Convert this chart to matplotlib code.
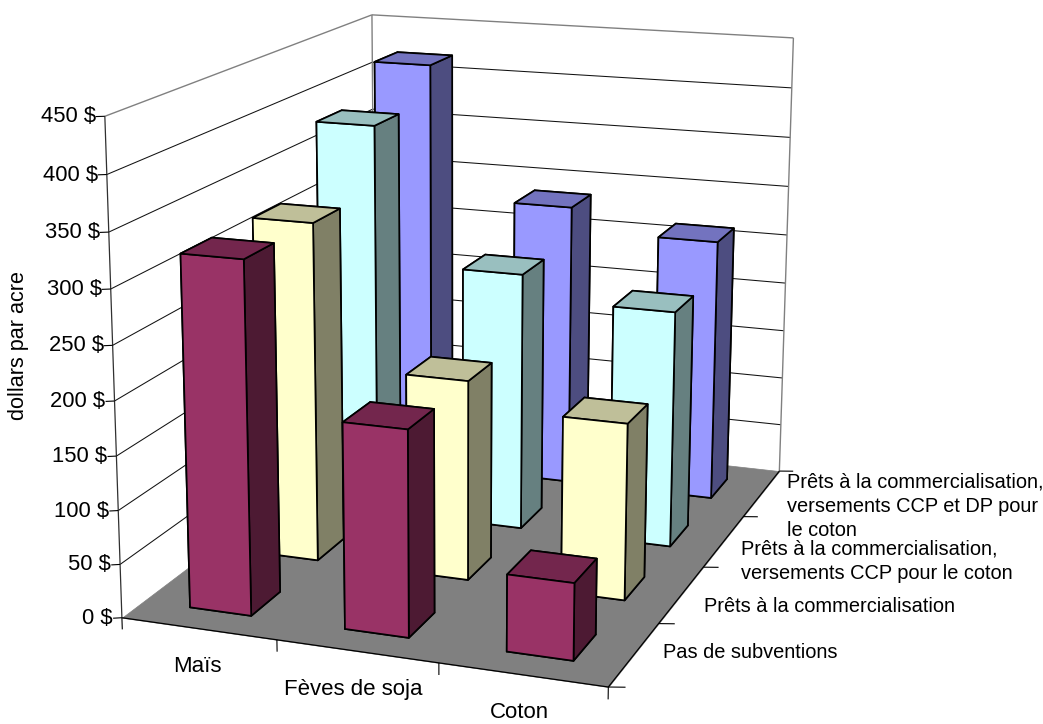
import numpy as np
import matplotlib
matplotlib.use("Agg")
import matplotlib.pyplot as plt
from mpl_toolkits.mplot3d.art3d import Poly3DCollection, Line3DCollection

plt.rcParams['font.family'] = ['Liberation Sans', 'DejaVu Sans']

# --- data ---
categories = ["Maïs", "Fèves de soja", "Coton"]
series_names = [
    "Pas de subventions",
    "Prêts à la commercialisation",
    "Prêts à la commercialisation,\nversements CCP pour le coton",
    "Prêts à la commercialisation,\nversements CCP et DP pour\nle coton",
]
pas_de_subventions = [325, 189, 70]
prets = [324, 190, 166]
prets_ccp = [386, 253, 230]
prets_ccp_dp = [420, 286, 263]
values = [pas_de_subventions, prets, prets_ccp, prets_ccp_dp]
z_ticks = list(range(0, 500, 50))
ylabel = "dollars par acre"

# front, top, side colours per series
colors = [
    ("#993366", "#73264D", "#4D1A33"),
    ("#FFFFCC", "#BFBF99", "#808066"),
    ("#CCFFFF", "#99BFBF", "#668080"),
    ("#9999FF", "#7373BF", "#4D4D80"),
]

W, H = 1043, 724
nx, ny = len(categories), len(values)
zmax = z_ticks[-1]

# box corners (x, y, z) and where they sit on the canvas, in pixels
box_world = [(0, 0, 0), (nx, 0, 0), (nx, ny, 0), (0, ny, 0),
             (0, 0, zmax), (0, ny, zmax), (nx, ny, zmax)]
box_pixel = [(123, 618), (608, 687), (780, 471), (374, 426),
             (104, 116), (373, 15), (793, 38)]


def fit_projection(world, pixel):
    # camera matrix from point pairs, z scaled to keep the system balanced
    rows = []
    for (x, y, z), (u, v) in zip(world, pixel):
        z = z / 100
        rows.append([x, y, z, 1, 0, 0, 0, 0, -u*x, -u*y, -u*z, -u])
        rows.append([0, 0, 0, 0, x, y, z, 1, -v*x, -v*y, -v*z, -v])
    P = np.linalg.svd(np.array(rows, dtype=float))[2][-1].reshape(3, 4)
    P[:, 2] /= 100
    if P[2, 3] < 0:
        P = -P
    return P


P = fit_projection(box_world, box_pixel)
M = np.array([P[0], P[1], [0, 0, 0, -P[2, 3]], P[2]])


def to_pixel(x, y, z):
    u, v, w = P @ np.array([x, y, z, 1.0])
    return u/w, v/w


fig = plt.figure(figsize=(W/100, H/100), dpi=100)
# 3D axes stay square, so use a square as wide as the figure
ax = fig.add_axes([0, -(W - H)/2/H, 1, W/H], projection='3d')
ax.computed_zorder = False
ax.get_proj = lambda: M
ax.set_axis_off()
ax.viewLim.intervalx = (0, W)
ax.viewLim.intervaly = (H + (W - H)/2, -(W - H)/2)


def add_lines(segments, color, lw, zorder=2):
    ax.add_collection3d(Line3DCollection(segments, colors=color, linewidths=lw, zorder=zorder))


# floor
floor = Poly3DCollection([[(0, 0, 0), (nx, 0, 0), (nx, ny, 0), (0, ny, 0)]],
                         facecolor="#808080", edgecolor="#808080", linewidth=0.5, zorder=1)
ax.add_collection3d(floor)
add_lines([[(0, 0, 0), (nx, 0, 0)], [(nx, 0, 0), (nx, ny, 0)]], 'k', 0.9)

# gridlines on the walls
grid = []
for z in z_ticks[1:-1]:
    grid.append([(0, 0, z), (0, ny, z)])
    grid.append([(0, ny, z), (nx, ny, z)])
add_lines(grid, '#111111', 0.75)
add_lines([[(0, 0, zmax), (0, ny, zmax)], [(0, ny, zmax), (nx, ny, zmax)],
           [(0, ny, 0), (0, ny, zmax)], [(nx, ny, 0), (nx, ny, zmax)]], '#808080', 1.0)
add_lines([[(0, 0, 0), (0, 0, zmax)]], '#303030', 0.9)

# ticks
ticks = [[(0, 0, z), (-0.045, -0.025, z)] for z in z_ticks]
ticks += [[(i, 0, 0), (i, 0, -11)] for i in range(nx + 1)]
ticks += [[(nx, j, 0), (nx + 0.09, j + 0.03, 0)] for j in range(ny + 1)]
add_lines(ticks, 'k', 0.8)

# bars, back row first
bar_w, bar_d = 0.40, 0.42
order = 3
for j in range(ny - 1, -1, -1):
    front, top, side = colors[j]
    # bar3d face order: bottom, top, -y, +y, -x, +x
    face_colors = [top, top, front, side, side, side]
    for i in range(nx):
        ax.bar3d(i + (1 - bar_w)/2 + 0.005, j + (1 - bar_d)/2, 0, bar_w, bar_d, values[j][i],
                 color=face_colors, edgecolor='k', linewidth=1.25, shade=False, zorder=order)
        order += 1

# labels
for z in z_ticks:
    px, py = to_pixel(0, 0, z)
    fig.text((px - 9)/W, 1 - (py + 0.5)/H, f"{z} $", ha='right', va='center', fontsize=15.8)

cat_xy = [(197, 666), (353, 690), (519, 712)]
for name, (tx, ty) in zip(categories, cat_xy):
    fig.text(tx/W, 1 - ty/H, name, ha='center', va='center', fontsize=16)

ser_xy = [(663, 653), (704, 606), (741, 561.5), (787, 506)]
for name, (tx, ty) in zip(series_names, ser_xy):
    fig.text(tx/W, 1 - ty/H, name, ha='left', va='center', fontsize=14.4, linespacing=1.35)

fig.text(19/W, 1 - 345/H, ylabel, rotation=90, ha='center', va='center', fontsize=15.6)

fig.savefig("out.png", dpi=100)
